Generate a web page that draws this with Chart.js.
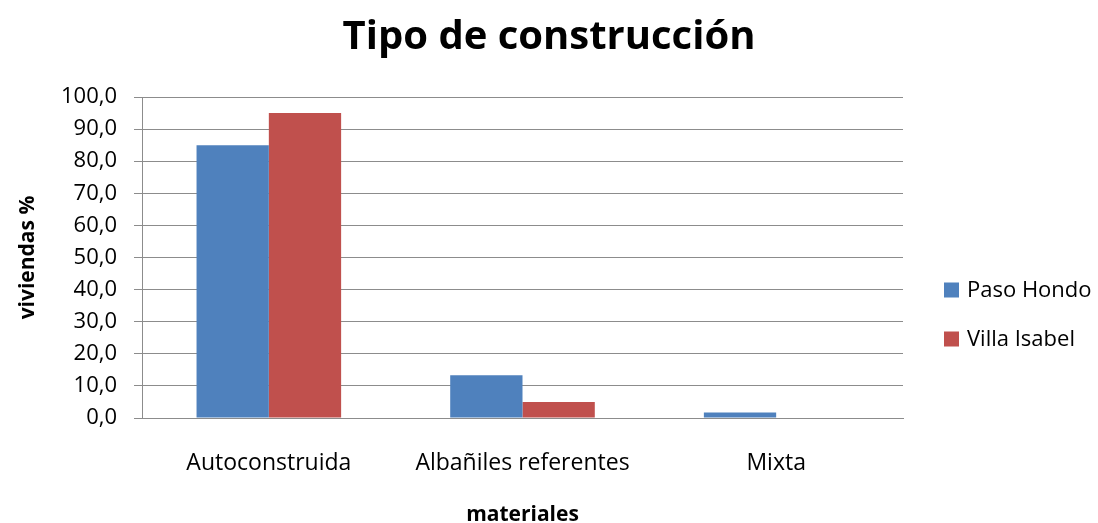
<!DOCTYPE html>
<html>
<head>
<meta charset="utf-8">
<script src="https://cdn.jsdelivr.net/npm/chart.js@4/dist/chart.umd.min.js"></script>
<style>
  html, body { margin: 0; padding: 0; background: #fff; }
  #wrap { width: 1098px; height: 523px; }
</style>
</head>
<body>
<div id="wrap"><canvas id="chart" width="1098" height="523"></canvas></div>
<script>
const categories = ['Autoconstruida', 'Albañiles referentes', 'Mixta'];
const pasoHondo = [85.0, 13.3, 1.7];
const villaIsabel = [95.0, 5.0, 0.0];
const seriesNames = ['Paso Hondo', 'Villa Isabel'];
const seriesColors = ['#4F81BD', '#C0504D'];

const FONT = "'Open Sans', 'Noto Sans', sans-serif";
const gridColor = '#8c8c8c';

// legend drawn by hand so it sits where the original one does
const sideLegend = {
    id: 'sideLegend',
    afterDraw(chart) {
        const ctx = chart.ctx;
        const x = chart.chartArea.right + 41;
        const yStart = 290;
        const gap = 49;
        ctx.save();
        ctx.font = '22px ' + FONT;
        ctx.textBaseline = 'middle';
        chart.data.datasets.forEach((ds, i) => {
            const y = yStart + i * gap;
            ctx.fillStyle = ds.backgroundColor;
            ctx.fillRect(x, y - 7.5, 15, 15);
            ctx.fillStyle = '#000';
            ctx.fillText(ds.label, x + 23, y + 1);
        });
        ctx.restore();
    }
};

new Chart(document.getElementById('chart'), {
    type: 'bar',
    data: {
        labels: categories,
        datasets: [
            { label: seriesNames[0], data: pasoHondo, backgroundColor: seriesColors[0] },
            { label: seriesNames[1], data: villaIsabel, backgroundColor: seriesColors[1] }
        ]
    },
    options: {
        responsive: false,
        animation: false,
        layout: { padding: 0 },
        datasets: {
            bar: { categoryPercentage: 0.57, barPercentage: 1.0 }
        },
        scales: {
            x: {
                grid: { display: false },
                border: { display: true, color: gridColor, width: 1 },
                ticks: { color: '#000', font: { family: FONT, size: 23 }, padding: 24, maxRotation: 0 },
                title: {
                    display: true,
                    text: 'materiales',
                    color: '#000',
                    font: { family: FONT, size: 21, weight: 'bold', lineHeight: 0.8 },
                    padding: { top: 0, bottom: 0 }
                },
                afterFit(scale) { scale.height = 105; }
            },
            y: {
                min: 0,
                max: 100,
                ticks: {
                    stepSize: 10,
                    color: '#000',
                    font: { family: FONT, size: 22 },
                    padding: 17,
                    callback: v => v.toFixed(1).replace('.', ',')
                },
                grid: { color: gridColor, lineWidth: 1, tickLength: 8, drawTicks: true },
                border: { display: true, color: gridColor, width: 1 },
                title: {
                    display: true,
                    text: 'viviendas %',
                    color: '#000',
                    font: { family: FONT, size: 21, weight: 'bold' },
                    padding: { top: 15, bottom: 0 }
                },
                afterFit(scale) { scale.width = 142; }
            },
            // empty axis that only reserves the space where the legend is drawn
            side: {
                type: 'linear',
                position: 'right',
                display: true,
                grid: { display: false },
                border: { display: false },
                ticks: { display: false },
                afterFit(scale) { scale.width = 195; }
            }
        },
        plugins: {
            legend: { display: false },
            tooltip: { enabled: false },
            title: {
                display: true,
                text: 'Tipo de construcción',
                color: '#000',
                font: { family: FONT, size: 40, weight: 'bold', lineHeight: 1.2 },
                padding: { top: 14, bottom: 35 }
            }
        }
    },
    plugins: [sideLegend]
});
</script>
</body>
</html>
